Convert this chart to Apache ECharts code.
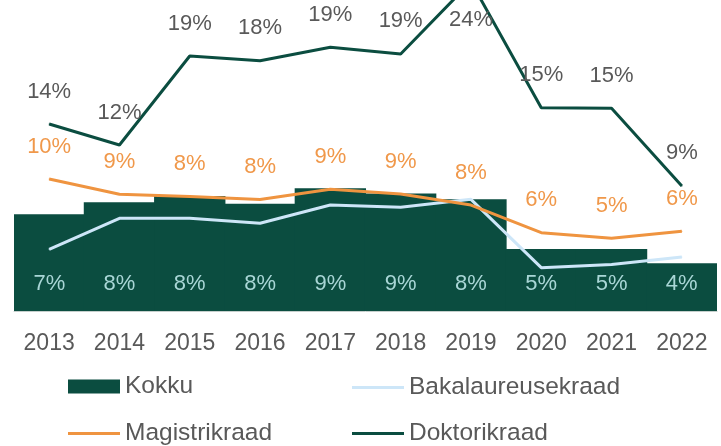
<!DOCTYPE html>
<html>
<head>
<meta charset="utf-8">
<script src="https://cdn.jsdelivr.net/npm/echarts@6/dist/echarts.min.js"></script>
<style>
html,body{margin:0;padding:0;background:#fff;}
#chart{width:721px;height:446px;}
</style>
</head>
<body>
<div id="chart"></div>
<script>
const categories = ['2013','2014','2015','2016','2017','2018','2019','2020','2021','2022'];
const kokku = [7.14, 8.02, 8.49, 7.92, 9.05, 8.68, 8.24, 4.58, 4.58, 3.52];
const bakalaureusekraad = [4.55, 6.84, 6.84, 6.47, 7.82, 7.65, 8.24, 3.2, 3.44, 3.99];
const magistrikraad = [9.74, 8.61, 8.45, 8.22, 8.98, 8.63, 7.82, 5.78, 5.36, 5.88];
const doktorikraad = [13.8, 12.25, 18.82, 18.47, 19.46, 18.97, 24.3, 15.0, 14.96, 9.23];
const seriesNames = ['Kokku','Bakalaureusekraad','Magistrikraad','Doktorikraad'];

const FONT = 'Liberation Sans';
const DARK = '#0b4d40';
const ORANGE = '#ef9440';
const BLUE = '#cde6f8';
const GRAY = '#595959';
const pct = p => Math.round(p.value) + '%';

const chart = echarts.init(document.getElementById('chart'), null, {renderer:'canvas'});

function legendFor(name, left, top, isLine, color) {
  return {
    data: [{name: name, icon: 'rect', itemStyle: {color: color}}],
    left: left, top: top, orient: 'horizontal',
    itemWidth: 52, itemHeight: isLine ? 3 : 14,
    selectedMode: false,
    textStyle: {fontFamily: FONT, fontSize: 24.5, lineHeight: 24, color: GRAY},
    padding: 0
  };
}

const dokData = doktorikraad.map((v, i) => i === 6
  ? {value: v, label: {position: 'bottom', distance: 27}}
  : v);

chart.setOption({
  animation: false,
  backgroundColor: '#fff',
  grid: {left: 14, right: 4, top: 0, bottom: 135, containLabel: false},
  legend: [
    legendFor(seriesNames[0], 68, 374, false, DARK),
    legendFor(seriesNames[1], 352, 375, true, BLUE),
    legendFor(seriesNames[2], 68, 421, true, ORANGE),
    legendFor(seriesNames[3], 352, 421, true, DARK)
  ],
  xAxis: {
    type: 'category', data: categories,
    axisTick: {show: false},
    axisLine: {show: true, lineStyle: {color: '#c5cfcc', width: 1}},
    axisLabel: {fontFamily: FONT, fontSize: 23, color: GRAY, margin: 21}
  },
  yAxis: {type: 'value', min: 0, max: 22.95, show: false, splitLine: {show: false}},
  series: [
    {
      name: seriesNames[0], type: 'bar', data: kokku,
      barWidth: '101.5%',
      itemStyle: {color: DARK},
      label: {show: true, position: 'insideBottom', distance: 16, formatter: pct,
        fontFamily: FONT, fontSize: 22, color: '#a9d6d6'}
    },
    {
      name: seriesNames[1], type: 'line', data: bakalaureusekraad,
      symbol: 'circle', symbolSize: 1, showSymbol: true,
      lineStyle: {color: BLUE, width: 3}, itemStyle: {color: BLUE},
      label: {show: false}
    },
    {
      name: seriesNames[2], type: 'line', data: magistrikraad,
      symbol: 'circle', symbolSize: 1, showSymbol: true,
      lineStyle: {color: ORANGE, width: 3}, itemStyle: {color: ORANGE},
      label: {show: true, position: 'top', distance: 21, formatter: pct,
        fontFamily: FONT, fontSize: 22, color: '#f0984a'}
    },
    {
      name: seriesNames[3], type: 'line', data: dokData, clip: false,
      symbol: 'circle', symbolSize: 1, showSymbol: true,
      lineStyle: {color: DARK, width: 3}, itemStyle: {color: DARK},
      label: {show: true, position: 'top', distance: 21, formatter: pct,
        fontFamily: FONT, fontSize: 22, color: GRAY}
    }
  ]
});
</script>
</body>
</html>
